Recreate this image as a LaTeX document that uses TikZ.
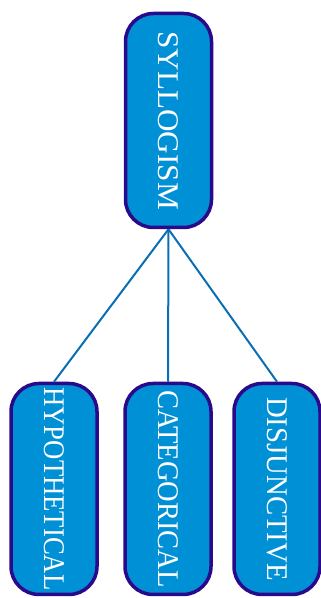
\documentclass[tikz,border=0pt]{standalone}
\usepackage{fontspec}
\setmainfont{Liberation Serif}
\usepackage{graphicx}
\definecolor{boxfill}{HTML}{0090D6}
\definecolor{boxedge}{HTML}{2A0A8A}
\definecolor{linkcol}{HTML}{0A6EB4}
\begin{document}
\begin{tikzpicture}[x=1pt,y=1pt,
  termbox/.style={draw=boxedge, line width=3.5pt, fill=boxfill, rounded corners=28pt,
    inner sep=0pt, minimum width=86pt, text=white, font=\fontsize{30}{30}\selectfont},
  link/.style={draw=linkcol, line width=2pt}]
\useasboundingbox (0,0) rectangle (321,598);
% root term
\node[termbox, minimum height=214pt] (syl) at (168.5,477.5)
  {\rotatebox{-90}{\scalebox{1.04}[1]{SYLLOGISM}}};
% three kinds
\node[termbox, minimum height=211pt] (hyp) at (54,109)
  {\rotatebox{-90}{\scalebox{0.89}[1]{HYPOTHETICAL}}};
\node[termbox, minimum height=211pt] (cat) at (168,109)
  {\rotatebox{-90}{\scalebox{0.95}[1]{CATEGORICAL}}};
\node[termbox, minimum height=211pt] (dis) at (277,109)
  {\rotatebox{-90}{\scalebox{0.96}[1]{DISJUNCTIVE}}};
% connectors
\draw[link] (syl.south) -- (hyp.north);
\draw[link] (syl.south) -- (cat.north);
\draw[link] (syl.south) -- (dis.north);
\end{tikzpicture}
\end{document}
